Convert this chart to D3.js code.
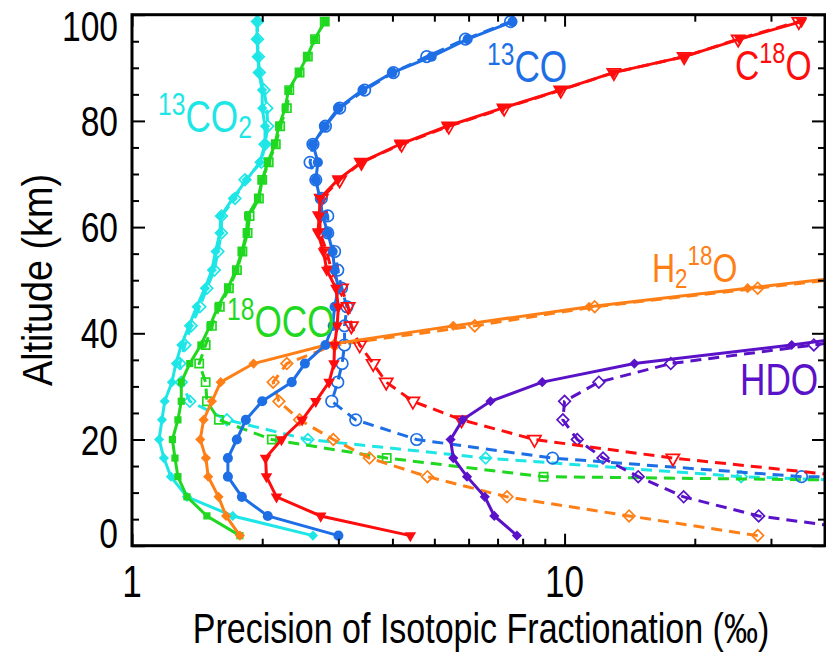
<!DOCTYPE html>
<html>
<head>
<meta charset="utf-8">
<title>Precision of isotopic fractionation</title>
<script src="https://d3js.org/d3.v7.min.js"></script>
<style>
  body { margin: 0; background: #fff; }
  text { font-family: "Liberation Sans", Arial, Helvetica, sans-serif; }
</style>
</head>
<body>
<script>

// altitude levels (km), shared by every profile
var altitudes = [1.9, 5.6, 9.2, 13.0, 16.5, 20.0, 23.7, 27.2, 30.8, 34.3, 37.8, 41.4, 45.0, 48.5, 51.9,
                 55.4, 58.9, 62.1, 65.4, 68.9, 72.2, 75.6, 79.0, 82.4, 85.8, 89.1, 92.1, 95.4, 98.7];

// precision (per mil) at each level: solid = filled markers, dashed = open markers
var co2_13_solid  = [2.62, 1.71, 1.34, 1.23, 1.185, 1.155, 1.173, 1.19, 1.237, 1.263, 1.30, 1.355, 1.41, 1.475, 1.53,
                     1.56, 1.596, 1.605, 1.71, 1.84, 1.975, 2.03, 2.03, 2.0, 2.0, 1.965, 1.955, 1.945, 1.945];
var co2_13_dashed = [null, null, 500, 25.6, 6.57, 2.55, 1.657, 1.36, 1.30, 1.29, 1.326, 1.37, 1.435, 1.49, 1.55,
                     1.58, 1.61, 1.61, 1.73, 1.824, 1.99, 2.03, 2.06, 2.05, 2.02, 1.97, 1.96, 1.95, 1.95];

var oco18_solid  = [1.776, 1.49, 1.34, 1.277, 1.257, 1.24, 1.277, 1.30, 1.30, 1.36, 1.443, 1.514, 1.58, 1.666, 1.738,
                    1.795, 1.84, 1.85, 1.955, 2.0, 2.06, 2.14, 2.185, 2.26, 2.30, 2.43, 2.54, 2.645, 2.79];
var oco18_dashed = [null, null, 1e5, 8.94, 3.88, 2.105, 1.588, 1.49, 1.48, 1.43, 1.48, 1.53, 1.596, 1.675, 1.748,
                    1.80, 1.85, 1.87, 1.965, 2.0, 2.07, 2.15, 2.20, 2.28, 2.31, 2.44, 2.55, 2.65, 2.79];

var co13_solid  = [3.0, 2.06, 1.795, 1.666, 1.666, 1.747, 1.833, 2.0, 2.34, 2.51, 2.80, 2.91, 2.94, 3.0, 2.94,
                   2.91, 2.835, 2.76, 2.72, 2.66, 2.69, 2.62, 2.79, 3.0, 3.41, 4.0, 4.93, 5.97, 7.58];
var co13_dashed = [null, null, 1e6, 35.3, 9.38, 4.55, 3.29, 2.896, 2.99, 3.06, 3.10, 3.10, 3.14, 3.05, 2.99,
                   2.94, 2.835, 2.835, 2.74, 2.66, 2.58, 2.62, 2.80, 3.02, 3.45, 4.02, 4.8, 5.9, 7.5];

var c18o_solid  = [4.40, 2.73, 2.158, 2.046, 2.036, 2.216, 2.474, 2.66, 2.855, 2.93, 2.94, 2.98, 3.0, 2.96, 2.82,
                   2.77, 2.69, 2.71, 2.72, 2.99, 3.39, 4.16, 5.35, 7.18, 9.76, 12.96, 18.9, 25.4, 35.3];
var c18o_dashed = [null, null, null, 46, 17.8, 8.52, 5.78, 4.46, 3.87, 3.61, 3.36, 3.215, 3.16, 3.05, 2.89,
                   2.82, 2.72, 2.72, 2.74, 3.02, 3.39, 4.2, 5.4, 7.25, 9.8, 13.0, 18.9, 25.2, 34.8];

var h2o18_solid  = [1.776, 1.65, 1.585, 1.50, 1.482, 1.438, 1.464, 1.53, 1.603, 1.91, 2.81, 5.53, 11.4, 26.5, 61];
var h2o18_dashed = [27.96, 14.1, 7.36, 4.82, 3.54, 2.92, 2.44, 2.185, 2.12, 2.28, 2.94, 6.2, 11.74, 27.96, 66];

var hdo_solid  = [7.76, 6.88, 6.54, 5.95, 5.53, 5.45, 5.81, 6.74, 8.88, 14.5, 33.5, 71];
var hdo_dashed = [61, 28.1, 18.85, 14.8, 12.27, 10.7, 9.91, 10.0, 12.0, 17.6, 37.7, 81];

var xMinorTicks = [2, 3, 4, 5, 6, 7, 8, 9, 20, 30];
var xMajorTicks = [1, 10];
var yMajorTicks = [0, 20, 40, 60, 80, 100];
var yMinorTicks = [5, 10, 15, 25, 30, 35, 45, 50, 55, 65, 70, 75, 85, 90, 95];

var species = [
  {solid: co2_13_solid, dashed: co2_13_dashed, color: "#1ee6e6", shape: "diamond"},
  {solid: oco18_solid,  dashed: oco18_dashed,  color: "#1fd81f", shape: "square"},
  {solid: h2o18_solid,  dashed: h2o18_dashed,  color: "#ff7f17", shape: "diamond"},
  {solid: hdo_solid,    dashed: hdo_dashed,    color: "#5a12c8", shape: "diamond"},
  {solid: co13_solid,   dashed: co13_dashed,   color: "#1e6fe6", shape: "circle"},
  {solid: c18o_solid,   dashed: c18o_dashed,   color: "#ff0d0d", shape: "triangle"}
];

var W = 826, H = 655;
var plotL = 132, plotR = 825, plotT = 14.7, plotB = 545.7;

var svg = d3.select("body").append("svg")
  .attr("width", W)
  .attr("height", H);

var x = d3.scaleLog().domain([1, 40]).range([plotL, plotR]);
var y = d3.scaleLinear().domain([0, 100]).range([plotB, plotT]);

svg.append("clipPath").attr("id", "plot")
  .append("rect")
  .attr("x", plotL).attr("y", plotT)
  .attr("width", plotR - plotL).attr("height", plotB - plotT);

// marker glyphs
var symbols = {
  diamond:  {type: d3.symbolSquare,   size: 52, rot: 45},
  square:   {type: d3.symbolSquare,   size: 52, rot: 0},
  circle:   {type: d3.symbolCircle,   size: 80, rot: 0},
  triangle: {type: d3.symbolTriangle, size: 58, rot: 180}
};

function points(arr) {
  return altitudes.map(function (a, i) { return {alt: a, v: arr[i]}; })
    .filter(function (d) { return d.v != null; });
}

var line = d3.line()
  .x(function (d) { return x(d.v); })
  .y(function (d) { return y(d.alt); });

var plot = svg.append("g").attr("clip-path", "url(#plot)");

// dashed profiles with open markers
species.forEach(function (s) {
  var pts = points(s.dashed);
  plot.append("path")
    .attr("d", line(pts))
    .attr("fill", "none")
    .attr("stroke", s.color)
    .attr("stroke-width", 3)
    .attr("stroke-dasharray", "11,7");
  var sym = symbols[s.shape];
  plot.selectAll(null).data(pts).enter().append("path")
    .attr("d", d3.symbol().type(sym.type).size(sym.size * 1.3))
    .attr("transform", function (d) { return "translate(" + x(d.v) + "," + y(d.alt) + ") rotate(" + sym.rot + ")"; })
    .attr("fill", "none")
    .attr("stroke", s.color)
    .attr("stroke-width", 1.7);
});

// solid profiles with filled markers
species.forEach(function (s) {
  var pts = points(s.solid);
  plot.append("path")
    .attr("d", line(pts))
    .attr("fill", "none")
    .attr("stroke", s.color)
    .attr("stroke-width", 3);
  var sym = symbols[s.shape];
  plot.selectAll(null).data(pts).enter().append("path")
    .attr("d", d3.symbol().type(sym.type).size(sym.size))
    .attr("transform", function (d) { return "translate(" + x(d.v) + "," + y(d.alt) + ") rotate(" + sym.rot + ")"; })
    .attr("fill", s.color);
});

// axes: inward ticks on all four sides
function ticks(axis, pos) {
  var g = svg.append("g").attr("transform", pos).call(axis);
  g.select(".domain").remove();
  g.selectAll("line").attr("stroke", "#000").attr("stroke-width", 2);
  return g;
}
ticks(d3.axisBottom(x).tickValues(xMinorTicks).tickSize(-7).tickFormat(""), "translate(0," + plotB + ")");
ticks(d3.axisBottom(x).tickValues(xMajorTicks).tickSize(-12).tickFormat(""), "translate(0," + plotB + ")");
ticks(d3.axisTop(x).tickValues(xMinorTicks).tickSize(-7).tickFormat(""), "translate(0," + plotT + ")");
ticks(d3.axisTop(x).tickValues(xMajorTicks).tickSize(-12).tickFormat(""), "translate(0," + plotT + ")");
ticks(d3.axisLeft(y).tickValues(yMinorTicks).tickSize(-7).tickFormat(""), "translate(" + plotL + ",0)");
ticks(d3.axisLeft(y).tickValues(yMajorTicks).tickSize(-13).tickFormat(""), "translate(" + plotL + ",0)");
ticks(d3.axisRight(y).tickValues(yMinorTicks).tickSize(-7).tickFormat(""), "translate(" + plotR + ",0)");
ticks(d3.axisRight(y).tickValues(yMajorTicks).tickSize(-13).tickFormat(""), "translate(" + plotR + ",0)");

svg.append("rect")
  .attr("x", plotL).attr("y", plotT)
  .attr("width", plotR - plotL).attr("height", plotB - plotT)
  .attr("fill", "none")
  .attr("stroke", "#000")
  .attr("stroke-width", 3);

// narrow text: a scaled group holding one text element
function narrow(px, py, sx, anchor, size, color, rot) {
  var g = svg.append("g")
    .attr("transform", "translate(" + px + "," + py + ")" + (rot ? " rotate(" + rot + ")" : "") + " scale(" + sx + ",1)");
  return g.append("text")
    .attr("text-anchor", anchor)
    .attr("font-size", size)
    .attr("fill", color || "#000");
}

yMajorTicks.forEach(function (v) {
  var cy = Math.min(Math.max(y(v), 26), 533);
  narrow(118, cy + 15, 0.8, "end", 42).text(v);
});
xMajorTicks.forEach(function (v) {
  narrow(x(v), 597, 0.78, "middle", 45).text(v);
});

narrow(481, 643, 0.81, "middle", 42).text("Precision of Isotopic Fractionation (\u2030)");
narrow(52, 280, 0.9, "middle", 42, "#000", -90).text("Altitude (km)");

// species names with super/subscripts
function speciesLabel(px, py, color, size, parts) {
  var t = narrow(px, py, 0.8, "start", size, color);
  var shift = 0;
  parts.forEach(function (p) {
    var want = p[1] === "sup" ? -17 : p[1] === "sub" ? 6 : 0;
    t.append("tspan")
      .attr("dy", want - shift)
      .attr("font-size", p[1] ? size * 0.7 : size)
      .text(p[0]);
    shift = want;
  });
}
speciesLabel(158, 132, "#1ee6e6", 44, [["13", "sup"], ["CO"], ["2", "sub"]]);
speciesLabel(227, 337, "#1fd81f", 44, [["18", "sup"], ["OCO"]]);
speciesLabel(487, 82,  "#1e6fe6", 44, [["13", "sup"], ["CO"]]);
speciesLabel(735, 80,  "#ff0d0d", 42, [["C"], ["18", "sup"], ["O"]]);
speciesLabel(652, 282, "#ff7f17", 40, [["H"], ["2", "sub"], ["18", "sup"], ["O"]]);
speciesLabel(740, 395, "#5a12c8", 44, [["HDO"]]);

</script>
</body>
</html>
